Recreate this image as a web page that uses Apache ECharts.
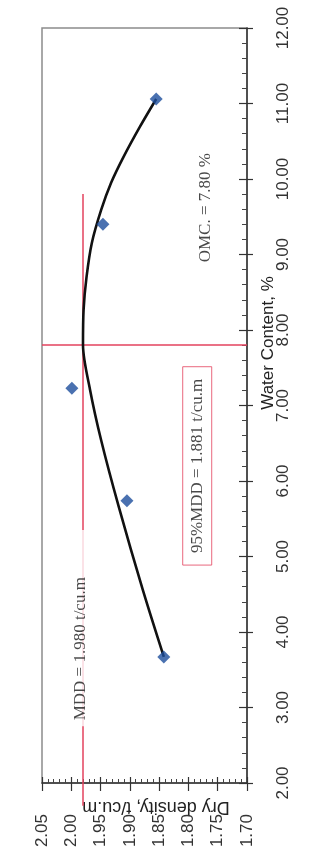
<!DOCTYPE html>
<html><head><meta charset="utf-8">
<script src="https://cdn.jsdelivr.net/npm/echarts@6/dist/echarts.min.js"></script>
<style>html,body{margin:0;padding:0;background:#fff}#c{width:334px;height:864px}</style>
</head><body><div id="c"></div>
<script>
// Compaction test: dry density (t/cu.m) vs water content (%)
const pointWater   = [3.67, 5.74, 7.23, 9.40, 11.06];
const pointDensity = [1.842, 1.905, 1.999, 1.946, 1.855];

const curveWater   = [3.67, 4.56, 5.66, 6.54, 7.21, 7.80, 8.27, 8.70, 9.15, 9.59, 9.95, 10.29, 10.69, 11.06];
const curveDensity = [1.842, 1.878, 1.919, 1.949, 1.968, 1.980, 1.979, 1.974, 1.965, 1.949, 1.932, 1.911, 1.883, 1.855];

const MDD = 1.980;
const OMC = 7.80;
const MDD95 = 1.881;
const mddLineWater = [1.70, 9.80];      // extent of the MDD reference line
const omcLineDensity = [1.70, 2.05];    // extent of the OMC reference line

const waterAxis   = {min: 2, max: 12, step: 1};
const densityAxis = {min: 1.70, max: 2.05, step: 0.05};

const xName = 'Dry density, t/cu.m';
const yName = 'Water Content, %';
const annoText = ['MDD = 1.980 t/cu.m', '95%MDD = 1.881 t/cu.m', 'OMC. = 7.80 %'];
const annoDensity = [1.985, 1.785, 1.770];
const annoWater = [4.05, 6.20, 9.62];

const sans = "'Liberation Sans', Arial, sans-serif";
const serif = "'Liberation Serif', 'Times New Roman', serif";
const red = '#e3425e';

const chart = echarts.init(document.getElementById('c'), null, {renderer: 'canvas'});

function xAx(main) {
  return {
    type: 'value', position: 'bottom', inverse: true,
    min: densityAxis.min, max: densityAxis.max, interval: densityAxis.step,
    splitLine: {show: false},
    axisLine: {show: main, lineStyle: {color: '#333', width: 1.5}},
    axisTick: {show: true, inside: main, length: main ? 6 : 8, lineStyle: {color: '#333', width: 1.2}},
    minorTick: {show: main, splitNumber: 5, length: 4, lineStyle: {color: '#444', width: 1}},
    axisLabel: main ? {show: true, rotate: 90, margin: 31, fontSize: 17, fontFamily: sans, color: '#333',
      formatter: v => v.toFixed(2)} : {show: false},
    name: main ? xName : '', nameLocation: 'middle', nameGap: 15, nameRotate: 180, nameMoveOverlap: false,
    nameTextStyle: {fontSize: 18, fontFamily: sans, color: '#222', padding: [0, 23, 0, 0]}
  };
}
function yAx(main) {
  return {
    type: 'value', position: 'right',
    min: waterAxis.min, max: waterAxis.max, interval: waterAxis.step,
    splitLine: {show: false},
    axisLine: {show: main, lineStyle: {color: '#333', width: 1.5}},
    axisTick: {show: true, inside: main, length: main ? 8 : 6, lineStyle: {color: '#333', width: 1.2}},
    minorTick: {show: main, splitNumber: 5, length: 5, lineStyle: {color: '#444', width: 1}},
    axisLabel: main ? {show: true, rotate: 90, margin: 28, fontSize: 17, fontFamily: sans, color: '#333',
      formatter: v => v.toFixed(2)} : {show: false},
    name: main ? yName : '', nameLocation: 'middle', nameGap: 13, nameRotate: 90, nameMoveOverlap: false,
    nameTextStyle: {fontSize: 17, fontFamily: sans, color: '#222', padding: [0, 0, 0, 125]}
  };
}

const annoData = annoText.map((t, i) => ({value: [annoDensity[i], annoWater[i], t]}));
annoData[0].label = {backgroundColor: '#fff', padding: [2, 47, 2, 6]};
annoData[1].label = {borderColor: red, borderWidth: 1, padding: [6, 12, 6, 12]};

chart.setOption({
  animation: false,
  backgroundColor: '#fff',
  grid: {left: 42, right: 87, top: 28, bottom: 81, show: true, borderColor: '#8c8c8c', borderWidth: 1.5,
         containLabel: false, outerBoundsMode: 'none'},
  xAxis: [xAx(true), xAx(false)],
  yAxis: [yAx(true), yAx(false)],
  series: [
    {type: 'line', name: 'OMC', xAxisIndex: 0, yAxisIndex: 0, clip: false, symbol: 'none', silent: true,
     data: omcLineDensity.map(d => [d, OMC]), lineStyle: {color: red, width: 1.5}, z: 2},
    {type: 'line', name: 'MDD', xAxisIndex: 0, yAxisIndex: 0, clip: false, symbol: 'none', silent: true,
     data: mddLineWater.map(w => [MDD, w]), lineStyle: {color: red, width: 1.5}, z: 2},
    {type: 'line', name: 'curve', xAxisIndex: 0, yAxisIndex: 0, symbol: 'none', smooth: 0.3,
     data: curveWater.map((w, i) => [curveDensity[i], w]), lineStyle: {color: '#111', width: 2.6}, z: 3},
    {type: 'scatter', name: 'test', xAxisIndex: 0, yAxisIndex: 0, symbol: 'diamond', symbolSize: 13,
     data: pointWater.map((w, i) => [pointDensity[i], w]), itemStyle: {color: '#1d4e9c'}, z: 4},
    {type: 'scatter', name: 'notes', xAxisIndex: 0, yAxisIndex: 0, symbolSize: 0, silent: true, z: 6,
     encode: {x: 0, y: 1},
     data: annoData,
     label: {show: true, position: 'inside', rotate: 90, fontSize: 17, fontFamily: serif, color: '#1a1a1a',
       formatter: p => p.value[2]}}
  ]
});
</script>
</body></html>
